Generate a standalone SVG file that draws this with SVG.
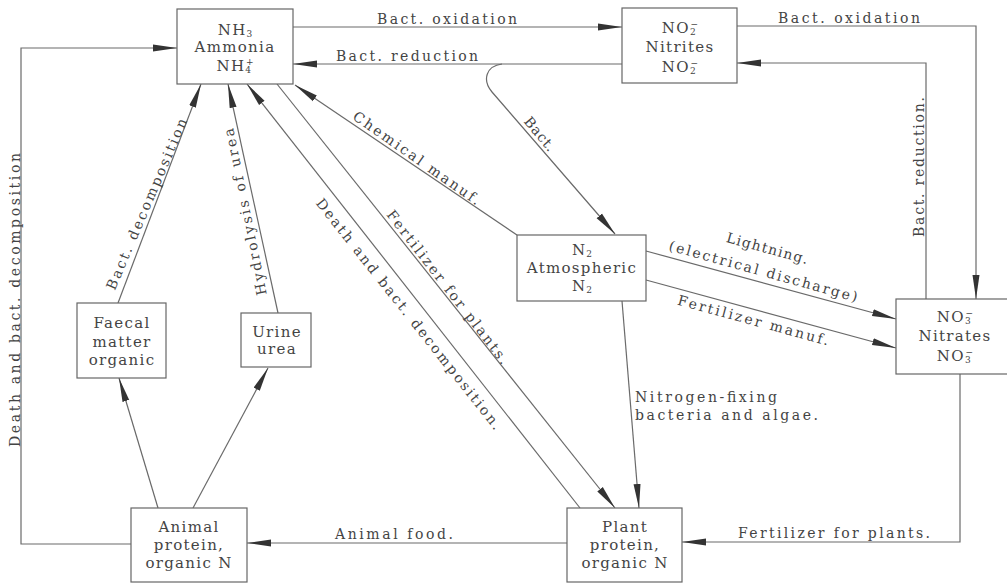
<svg xmlns="http://www.w3.org/2000/svg" width="1007" height="584" viewBox="0 0 1007 584">
<defs>
<marker id="ah" markerUnits="userSpaceOnUse" viewBox="0 0 24 8" markerWidth="24" markerHeight="8" refX="24" refY="4" orient="auto">
<path d="M0,0.5 L24,4 L0,7.5 Z" fill="#333"/>
</marker>
<style>
.box{fill:#fff;stroke:#666;stroke-width:1.2}
.nt{font-family:"DejaVu Serif","Liberation Serif",serif;font-size:15px;fill:#444;text-anchor:middle;letter-spacing:1.3px}
.sb{font-size:9px;letter-spacing:0}
.c{fill:none;stroke:#6a6a6a;stroke-width:1.2}
.a{marker-end:url(#ah)}
.el{font-family:"DejaVu Serif","Liberation Serif",serif;font-size:14px;fill:#444;text-anchor:middle}
.es{font-family:"DejaVu Serif","Liberation Serif",serif;font-size:14px;fill:#444;text-anchor:start}
</style>
</defs>
<rect width="1007" height="584" fill="#fff"/>
<g id="connectors">
<path class="c a" d="M293,27 H622"/>
<path class="c a" d="M622,64 H293"/>
<path class="c a" d="M737,26 H976 V299"/>
<path class="c a" d="M926,299 V63 H737"/>
<path class="c a" d="M502,64 C486,66 482,80 492,92 L615,234"/>
<path class="c a" d="M517,235 L295,85"/>
<path class="c a" d="M646,251 L896,319"/>
<path class="c a" d="M646,280 L896,348"/>
<path class="c a" d="M622,301 L639,508"/>
<path class="c a" d="M960,374 V542 H682"/>
<path class="c a" d="M567,543 H247"/>
<path class="c a" d="M131,544 H21 V48 H177"/>
<path class="c a" d="M118,303 L201,84"/>
<path class="c a" d="M278,313 L228,84"/>
<path class="c a" d="M158,508 L119,378"/>
<path class="c a" d="M193,508 L268,368"/>
<path class="c a" d="M277,84 L615,508"/>
<path class="c a" d="M580,508 L247,84"/>
<text class="el" x="447" y="24" textLength="140" lengthAdjust="spacing">Bact. oxidation</text>
<text class="el" x="407" y="61" textLength="142" lengthAdjust="spacing">Bact. reduction</text>
<text class="el" x="849" y="23" textLength="142" lengthAdjust="spacing">Bact. oxidation</text>
<text class="el" transform="translate(924,167) rotate(-90)" textLength="140" lengthAdjust="spacing">Bact. reduction.</text>
<text class="el" transform="translate(536,137) rotate(50)" textLength="40" lengthAdjust="spacing">Bact.</text>
<text class="el" transform="translate(414,162) rotate(35)" textLength="152" lengthAdjust="spacing">Chemical manuf.</text>
<text class="el" transform="translate(405,317) rotate(51.7)" textLength="290" lengthAdjust="spacing">Death and bact. decomposition.</text>
<text class="el" transform="translate(444,290) rotate(52.3)" textLength="190" lengthAdjust="spacing">Fertilizer for plants.</text>
<text class="el" transform="translate(151,206) rotate(-66.9)" textLength="185" lengthAdjust="spacing">Bact. decomposition</text>
<text class="el" transform="translate(250,211) rotate(-101.4)" textLength="170" lengthAdjust="spacing">Hydrolysis of urea</text>
<text class="el" transform="translate(20,300) rotate(-90)" textLength="294" lengthAdjust="spacing">Death and bact. decomposition</text>
<text class="el" transform="translate(766,253) rotate(15.4)" textLength="84" lengthAdjust="spacing">Lightning.</text>
<text class="el" transform="translate(762,276) rotate(15.4)" textLength="195" lengthAdjust="spacing">(electrical discharge)</text>
<text class="el" transform="translate(752,325) rotate(15.2)" textLength="156" lengthAdjust="spacing">Fertilizer manuf.</text>
<text class="es" x="635" y="402" textLength="142" lengthAdjust="spacing">Nitrogen-fixing</text>
<text class="es" x="635" y="420" textLength="183" lengthAdjust="spacing">bacteria and algae.</text>
<text class="es" x="738" y="538" textLength="192" lengthAdjust="spacing">Fertilizer for plants.</text>
<text class="es" x="335" y="539" textLength="118" lengthAdjust="spacing">Animal food.</text>
</g>
<g id="ammonia">
<rect class="box" x="177" y="9" width="116" height="75"/>
<text class="nt" x="235" y="35">NH<tspan class="sb" dy="2">3</tspan></text>
<text class="nt" x="235" y="52">Ammonia</text>
<text class="nt" x="235" y="71">NH<tspan class="sb" dy="2">4</tspan><tspan class="sb" dx="-5" dy="-8">+</tspan></text>
</g>
<g id="nitrites">
<rect class="box" x="622" y="8" width="115" height="75"/>
<text class="nt" x="680" y="33">NO<tspan class="sb" dy="2">2</tspan><tspan class="sb" dx="-5" dy="-8">−</tspan></text>
<text class="nt" x="680" y="52">Nitrites</text>
<text class="nt" x="680" y="72">NO<tspan class="sb" dy="2">2</tspan><tspan class="sb" dx="-5" dy="-8">−</tspan></text>
</g>
<g id="atmospheric">
<rect class="box" x="517" y="235" width="129" height="66"/>
<text class="nt" x="582" y="255">N<tspan class="sb" dy="2">2</tspan></text>
<text class="nt" x="582" y="273">Atmospheric</text>
<text class="nt" x="582" y="291">N<tspan class="sb" dy="2">2</tspan></text>
</g>
<g id="nitrates">
<rect class="box" x="896" y="299" width="118" height="75"/>
<text class="nt" x="955" y="322">NO<tspan class="sb" dy="2">3</tspan><tspan class="sb" dx="-5" dy="-8">−</tspan></text>
<text class="nt" x="955" y="341">Nitrates</text>
<text class="nt" x="955" y="361">NO<tspan class="sb" dy="2">3</tspan><tspan class="sb" dx="-5" dy="-8">−</tspan></text>
</g>
<g id="faecal">
<rect class="box" x="77" y="303" width="89" height="75"/>
<text class="nt" x="122" y="328">Faecal</text>
<text class="nt" x="122" y="347">matter</text>
<text class="nt" x="122" y="365">organic</text>
</g>
<g id="urine">
<rect class="box" x="241" y="313" width="70" height="54"/>
<text class="nt" x="277" y="337">Urine</text>
<text class="nt" x="277" y="354">urea</text>
</g>
<g id="animal">
<rect class="box" x="131" y="508" width="116" height="74"/>
<text class="nt" x="189" y="532">Animal</text>
<text class="nt" x="189" y="550">protein,</text>
<text class="nt" x="189" y="568">organic N</text>
</g>
<g id="plant">
<rect class="box" x="567" y="508" width="115" height="74"/>
<text class="nt" x="625" y="532">Plant</text>
<text class="nt" x="625" y="550">protein,</text>
<text class="nt" x="625" y="568">organic N</text>
</g>
</svg>
